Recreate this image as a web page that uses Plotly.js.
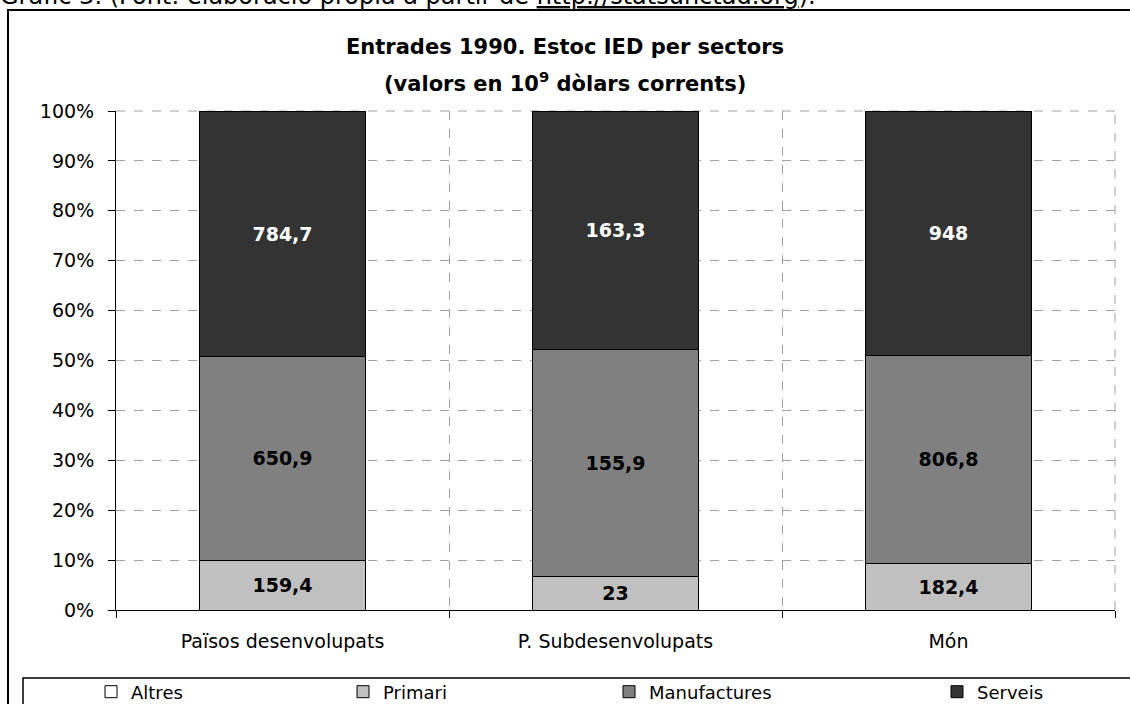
<!DOCTYPE html>
<html>
<head>
<meta charset="utf-8">
<script src="https://cdn.plot.ly/plotly-3.0.1.min.js"></script>
<style>html,body{margin:0;padding:0;background:#fff;}#chart{width:1130px;height:704px;}</style>
</head>
<body>
<div id="chart"></div>
<script>
// ---- data ----
var categories = ["Països desenvolupats", "P. Subdesenvolupats", "Món"];
var seriesNames = ["Altres", "Primari", "Manufactures", "Serveis"];
var altres = [0, 0, 0];
var primari = [159.4, 23, 182.4];
var manufactures = [650.9, 155.9, 806.8];
var serveis = [784.7, 163.3, 948];
var yTickVals = [0, 10, 20, 30, 40, 50, 60, 70, 80, 90, 100];
var yTickText = yTickVals.map(function (v) { return v + "%"; });

// ---- styling ----
var FONT = "DejaVu Sans";
var colors = ["#ffffff", "#c0c0c0", "#808080", "#333333"];
var textColors = ["#000000", "#000000", "#000000", "#ffffff"];
var values = [altres, primari, manufactures, serveis];
var legendIds = ["legend", "legend2", "legend3", "legend4"];

function fmt(v) { return String(v).replace(".", ","); }

var traces = values.map(function (vals, i) {
  var t = {
    type: "bar",
    name: seriesNames[i],
    x: categories,
    y: vals,
    width: 0.5,
    marker: { color: colors[i], line: { color: "#000000", width: 1 } },
    hoverinfo: "name+y",
    legend: legendIds[i],
    cliponaxis: false
  };
  if (i > 0) {
    t.text = vals.map(fmt);
    t.textposition = "inside";
    t.insidetextanchor = "middle";
    t.constraintext = "none";
    t.textfont = { family: FONT, size: 19, weight: "bold", color: textColors[i] };
  } else {
    t.textposition = "none";
  }
  return t;
});

function px2x(px) { return (px - 116) / 999; }
function px2y(py) { return (610 - py) / 499; }

var legFont = { family: FONT, size: 18, color: "#000000" };
function leg(xpx) {
  return {
    x: px2x(xpx), xanchor: "left",
    y: px2y(692), yanchor: "middle",
    orientation: "h",
    font: legFont,
    bgcolor: "rgba(0,0,0,0)",
    borderwidth: 0,
    itemwidth: 30
  };
}

var GRID = "#a0a0a0";

var layout = {
  width: 1130,
  height: 704,
  margin: { l: 116, r: 15, t: 111, b: 94, pad: 0, autoexpand: false },
  paper_bgcolor: "#ffffff",
  plot_bgcolor: "#ffffff",
  barmode: "stack",
  barnorm: "percent",
  showlegend: true,
  font: { family: FONT, size: 18, color: "#000000" },
  xaxis: {
    type: "category",
    range: [-0.5, 2.5],
    tickson: "boundaries",
    ticks: "outside",
    ticklen: 7,
    tickcolor: "#000000",
    showline: true,
    linecolor: "#000000",
    linewidth: 1,
    showgrid: true,
    gridcolor: GRID,
    griddash: "dash",
    gridwidth: 1,
    ticklabelstandoff: 14,
    tickfont: { family: FONT, size: 19, color: "#000000" },
    fixedrange: true,
    automargin: false
  },
  yaxis: {
    range: [0, 100],
    tickmode: "array",
    tickvals: yTickVals,
    ticktext: yTickText,
    ticks: "outside",
    ticklen: 7,
    tickcolor: "#000000",
    showline: true,
    linecolor: "#000000",
    linewidth: 1,
    showgrid: true,
    gridcolor: GRID,
    griddash: "dash",
    gridwidth: 1,
    zeroline: false,
    ticklabelstandoff: 10,
    tickfont: { family: FONT, size: 19, color: "#000000" },
    fixedrange: true,
    automargin: false
  },
  legend: leg(91),
  legend2: leg(343),
  legend3: leg(609),
  legend4: leg(937),
  shapes: [
    { type: "line", xref: "paper", yref: "paper", x0: 0, x1: 1, y0: 1, y1: 1,
      line: { color: GRID, width: 1, dash: "dash" }, layer: "below" },
    { type: "line", xref: "paper", yref: "paper", x0: 1, x1: 1, y0: 0, y1: 1,
      line: { color: GRID, width: 1, dash: "dash" }, layer: "below" },
    { type: "rect", xref: "paper", yref: "paper",
      x0: px2x(8), x1: 1.2, y0: -0.4, y1: px2y(10),
      line: { color: "#000000", width: 2 }, fillcolor: "rgba(0,0,0,0)", layer: "below" },
    { type: "rect", xref: "paper", yref: "paper",
      x0: px2x(23), x1: 1.2, y0: -0.4, y1: px2y(678),
      line: { color: "#000000", width: 1.5 }, fillcolor: "rgba(0,0,0,0)", layer: "below" }
  ],
  annotations: [
    { xref: "paper", yref: "paper", x: px2x(-2), y: px2y(12), xanchor: "left", yanchor: "bottom",
      showarrow: false, align: "left",
      text: "Gràfic 3. (Font: elaboració pròpia a partir de <u>http://statsunctad.org</u>).",
      font: { family: FONT, size: 24, color: "#000000" } },
    { xref: "paper", yref: "paper", x: px2x(565), y: px2y(47), xanchor: "center", yanchor: "middle",
      showarrow: false,
      text: "Entrades 1990. Estoc IED per sectors",
      font: { family: FONT, size: 21, weight: "bold", color: "#000000" } },
    { xref: "paper", yref: "paper", x: px2x(565), y: px2y(82), xanchor: "center", yanchor: "middle",
      showarrow: false,
      text: "(valors en 10<sup>9</sup> dòlars corrents)",
      font: { family: FONT, size: 21, weight: "bold", color: "#000000" } }
  ]
};

Plotly.newPlot("chart", traces, layout, { displayModeBar: false, staticPlot: true });
</script>
</body>
</html>
